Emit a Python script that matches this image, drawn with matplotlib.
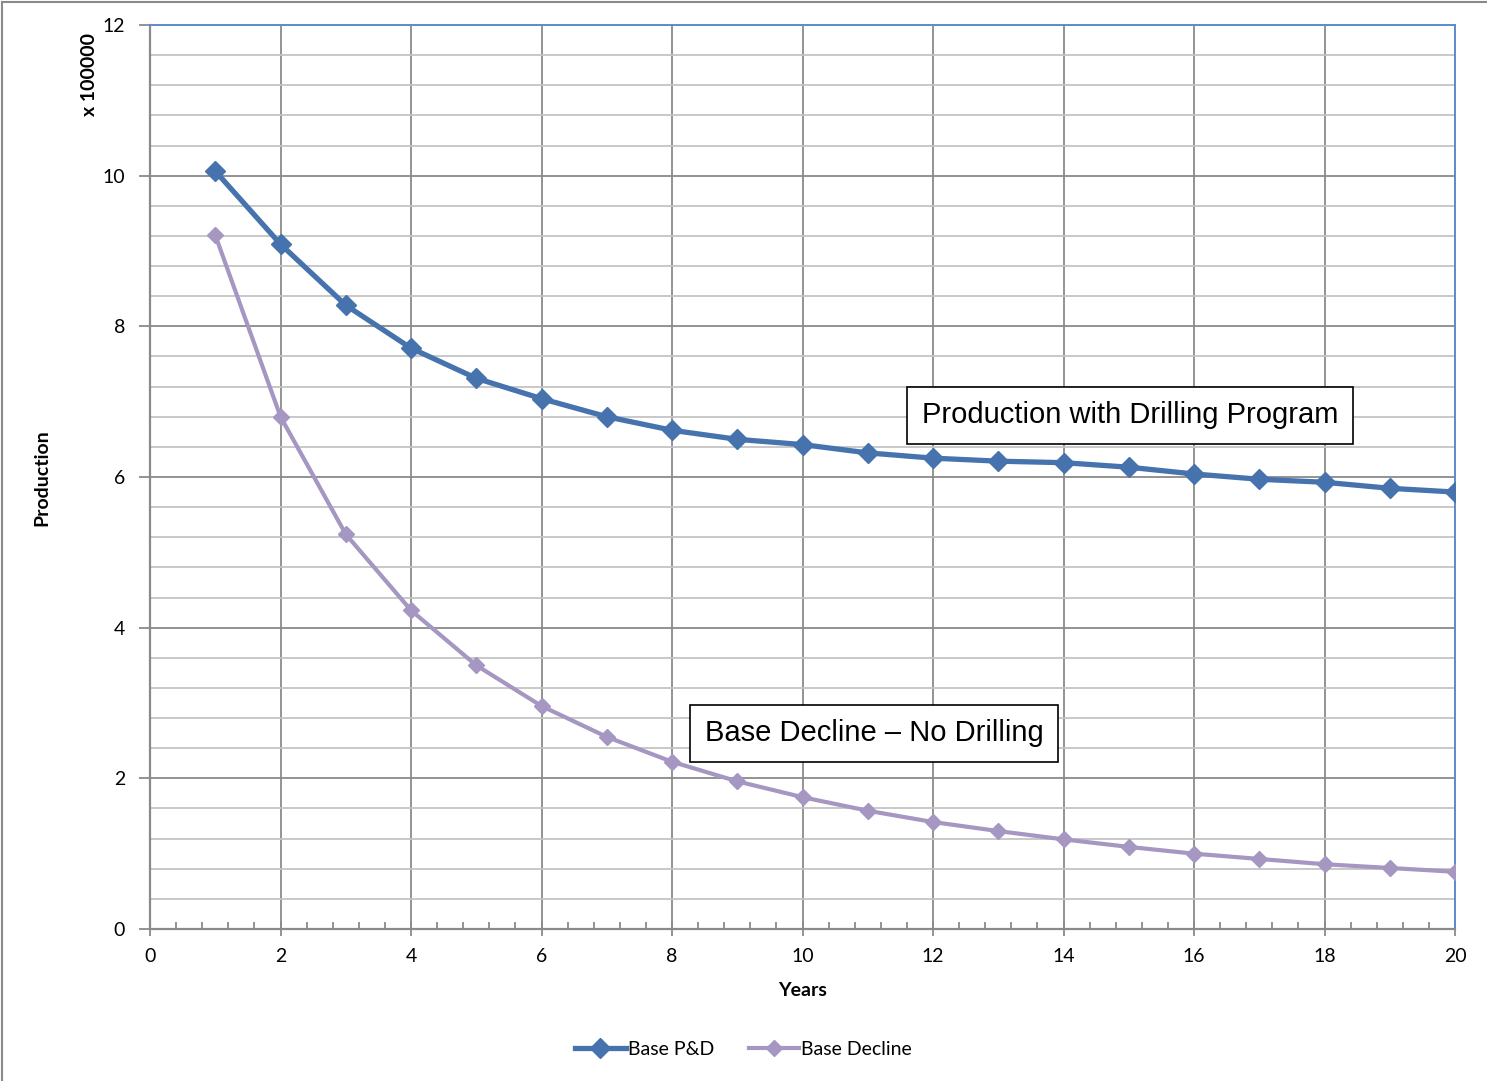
import matplotlib.pyplot as plt
from matplotlib.lines import Line2D
from matplotlib.ticker import MultipleLocator

# Annual production, in units of 100000
years = list(range(1, 21))
base_pd = [10.06, 9.09, 8.28, 7.71, 7.31, 7.04, 6.80, 6.62, 6.50, 6.43,
           6.32, 6.25, 6.21, 6.19, 6.13, 6.04, 5.97, 5.93, 5.85, 5.80]
base_decline = [9.21, 6.80, 5.24, 4.23, 3.50, 2.96, 2.55, 2.22, 1.96, 1.75,
                1.57, 1.42, 1.30, 1.19, 1.09, 1.00, 0.93, 0.86, 0.81, 0.76]

blue = '#4673AE'
purple = '#A596C2'
tick_font = 'Lato'
fs = 14

fig = plt.figure(figsize=(14.87, 10.81), dpi=100)
ax = fig.add_axes([0.1009, 0.1406, 0.8776, 0.8363])

ax.plot(years, base_pd, color=blue, linewidth=3.8, marker='D', markersize=10,
        label='Base P&D', zorder=4)
ax.plot(years, base_decline, color=purple, linewidth=3.0, marker='D', markersize=8,
        label='Base Decline', zorder=3)

ax.set_xlim(0, 20)
ax.set_ylim(0, 12)
ax.xaxis.set_major_locator(MultipleLocator(2))
ax.xaxis.set_minor_locator(MultipleLocator(0.4))
ax.yaxis.set_major_locator(MultipleLocator(2))
ax.yaxis.set_minor_locator(MultipleLocator(0.4))

ax.grid(which='major', axis='both', color='#8A8A8A', linewidth=1.3, zorder=1)
ax.grid(which='minor', axis='y', color='#C4C4C4', linewidth=1.3, zorder=0)
ax.set_axisbelow(True)

ax.tick_params(axis='x', which='major', direction='inout', length=10, width=1.3,
               color='#8A8A8A', pad=9)
ax.tick_params(axis='x', which='minor', direction='in', length=5, width=1.3, color='#8A8A8A')
ax.tick_params(axis='y', which='major', direction='out', length=8, width=1.3,
               color='#8A8A8A', pad=10)
ax.tick_params(axis='y', which='minor', length=0)
for lbl in ax.get_xticklabels() + ax.get_yticklabels():
    lbl.set_fontfamily(tick_font)
    lbl.set_fontsize(fs)

for side in ('left', 'bottom'):
    ax.spines[side].set_color('#8A8A8A')
    ax.spines[side].set_linewidth(1.6)
for side in ('top', 'right'):
    ax.spines[side].set_color('#5B8BD0')
    ax.spines[side].set_linewidth(1.4)

ax.set_xlabel('Years', fontfamily=tick_font, fontweight='bold', fontsize=fs, labelpad=12)
fig.text(0.0282, 0.558, 'Production', rotation=90, ha='center', va='center',
         fontfamily=tick_font, fontweight='bold', fontsize=fs)
fig.text(0.0605, 0.931, 'x 100000', rotation=90, ha='center', va='center',
         fontfamily=tick_font, fontweight='bold', fontsize=fs)

box = dict(boxstyle='square,pad=0.5', facecolor='white', edgecolor='black', linewidth=1.2)
ax.text(15.02, 6.82, 'Production with Drilling Program', ha='center', va='center',
        fontfamily='Liberation Sans', fontsize=21, bbox=box, zorder=5)
ax.text(11.1, 2.60, 'Base Decline \u2013 No Drilling', ha='center', va='center',
        fontfamily='Liberation Sans', fontsize=21, bbox=box, zorder=5)

fig.legend(loc='center', bbox_to_anchor=(0.5, 0.0295), ncol=2, frameon=False,
           prop={'family': tick_font, 'size': fs}, handlelength=2.6,
           handletextpad=0.1, columnspacing=1.8)

# chart area border
fig.add_artist(Line2D([0.0013, 1.0], [0.998, 0.998], transform=fig.transFigure,
                      color='#8A8A8A', linewidth=1.5))
fig.add_artist(Line2D([0.0013, 0.0013], [0.0, 0.998], transform=fig.transFigure,
                      color='#8A8A8A', linewidth=1.5))

fig.savefig('out.png', dpi=100)
